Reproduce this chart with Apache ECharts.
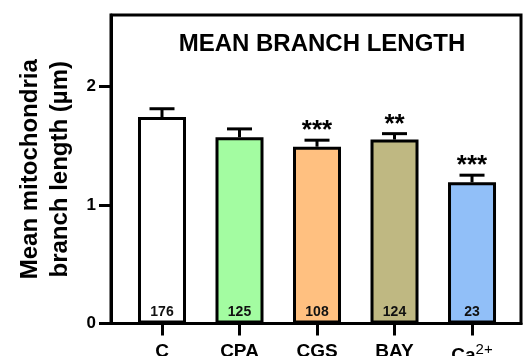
<!DOCTYPE html>
<html>
<head>
<meta charset="utf-8">
<script src="https://cdn.jsdelivr.net/npm/echarts@6/dist/echarts.min.js"></script>
<style>
  html, body { margin: 0; padding: 0; background: #fff; }
  #chart { width: 524px; height: 356px; }
</style>
</head>
<body>
<div id="chart"></div>
<script>
// Groups, mean branch length (µm), SEM, n per group and significance marks
const categories = ['C', 'CPA', 'CGS', 'BAY', 'Ca2+'];
const means = [1.74, 1.57, 1.49, 1.55, 1.19];
const sems = [0.07, 0.07, 0.055, 0.05, 0.06];
const counts = [176, 125, 108, 124, 23];
const stars = ['', '', '***', '**', '***'];
const yTicks = [0, 1, 2];
const barColors = ['#ffffff', '#a3fca1', '#ffc080', '#bfb882', '#91bff8'];

const FONT = '"Liberation Sans", Arial, Helvetica, sans-serif';
const positions = categories.map((_, i) => i);

const chart = echarts.init(document.getElementById('chart'), null, { renderer: 'canvas' });

chart.setOption({
  animation: false,
  backgroundColor: '#fff',
  title: {
    text: 'MEAN BRANCH LENGTH',
    left: 317,
    top: 27,
    textAlign: 'center',
    textStyle: { fontFamily: FONT, fontWeight: 'bold', fontSize: 24, color: '#000' }
  },
  grid: {
    left: 111, right: 3, top: 15, bottom: 32.5,
    outerBoundsMode: 'none',
    containLabel: false,
    show: true, borderColor: '#000', borderWidth: 3, backgroundColor: 'transparent'
  },
  xAxis: {
    type: 'value',
    min: -0.658,
    max: 4.632,
    splitLine: { show: false },
    axisLine: { show: true, onZero: false, lineStyle: { color: '#000', width: 3 } },
    axisTick: { show: true, length: 12, lineStyle: { color: '#000', width: 3 }, customValues: positions },
    axisLabel: {
      show: true,
      margin: 19,
      customValues: positions,
      formatter: v => {
        const c = categories[Math.round(v)];
        return c === 'Ca2+' ? '{b|Ca}{sup|2+}' : '{b|' + c + '}';
      },
      rich: {
        b: { fontFamily: FONT, fontWeight: 'bold', fontSize: 19, color: '#000' },
        sup: { fontFamily: FONT, fontSize: 15, color: '#000', padding: [0, 0, 12, 0] }
      }
    }
  },
  yAxis: {
    type: 'value',
    min: 0,
    max: 2.6,
    splitLine: { show: false },
    name: 'Mean mitochondria\nbranch length (µm)',
    nameLocation: 'middle',
    nameGap: 34,
    nameTextStyle: { fontFamily: FONT, fontWeight: 'bold', fontSize: 24, color: '#000', lineHeight: 30 },
    axisLine: { show: true, onZero: false, lineStyle: { color: '#000', width: 3 } },
    axisTick: { show: true, length: 12, lineStyle: { color: '#000', width: 3 }, customValues: yTicks },
    axisLabel: {
      margin: 15,
      customValues: yTicks,
      fontFamily: FONT, fontWeight: 'bold', fontSize: 17, color: '#000'
    }
  },
  series: [
    {
      type: 'bar',
      barWidth: 48,
      data: means.map((m, i) => ({
        value: [positions[i], m],
        itemStyle: { color: barColors[i], borderColor: '#000', borderWidth: 3 }
      })),
      label: {
        show: true,
        position: 'insideBottom',
        distance: 4,
        formatter: p => String(counts[p.dataIndex]),
        fontFamily: FONT, fontWeight: 'bold', fontSize: 14, color: '#111'
      },
      z: 2
    },
    {
      // SEM error bars with significance asterisks above the caps
      type: 'custom',
      data: means.map((m, i) => [positions[i], m, sems[i]]),
      renderItem: (params, api) => {
        const x = api.value(0), m = api.value(1), e = api.value(2);
        const base = api.coord([x, m]);
        const top = api.coord([x, m + e]);
        const half = 12.5;
        const children = [
          { type: 'line', shape: { x1: base[0], y1: base[1], x2: top[0], y2: top[1] },
            style: { stroke: '#000', lineWidth: 3 } },
          { type: 'line', shape: { x1: top[0] - half, y1: top[1], x2: top[0] + half, y2: top[1] },
            style: { stroke: '#000', lineWidth: 3 } }
        ];
        const s = stars[params.dataIndex];
        if (s) {
          children.push({
            type: 'text',
            style: {
              text: s, x: top[0], y: top[1] + 4,
              align: 'center', verticalAlign: 'bottom',
              font: 'bold 26px ' + FONT, fill: '#000'
            }
          });
        }
        return { type: 'group', children };
      },
      z: 3
    }
  ]
});
</script>
</body>
</html>
